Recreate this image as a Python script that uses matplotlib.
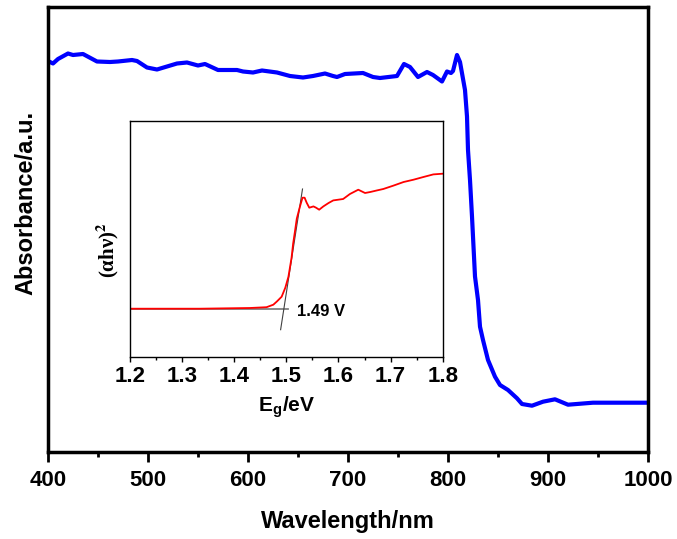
import matplotlib
matplotlib.use("Agg")
import matplotlib.pyplot as plt
from matplotlib.ticker import MultipleLocator

plt.rcParams['font.family'] = ['Liberation Sans', 'DejaVu Sans']
plt.rcParams['font.weight'] = 'bold'
plt.rcParams['mathtext.fontset'] = 'stix'

# main spectrum
wavelength = [400, 405, 410, 420, 425, 435, 449, 462, 470, 484, 489, 499, 509, 519,
              529, 539, 550, 557, 570, 589, 595, 605, 614, 629, 642, 655, 665, 677,
              685, 689, 697, 715, 725, 732, 749, 756, 762, 770, 779, 785, 794, 799,
              803, 805, 809, 812, 817, 819, 820, 822, 824, 827, 830, 832, 835, 840,
              847, 852, 860, 869, 874, 884, 895, 907, 920, 945, 1000]
absorbance = [3.905, 3.88, 3.925, 3.98, 3.965, 3.975, 3.90, 3.895, 3.90, 3.915, 3.905,
              3.84, 3.82, 3.85, 3.88, 3.89, 3.86, 3.875, 3.815, 3.815, 3.80, 3.79, 3.81,
              3.79, 3.755, 3.74, 3.755, 3.78, 3.755, 3.745, 3.775, 3.785, 3.745, 3.735,
              3.755, 3.875, 3.845, 3.745, 3.795, 3.765, 3.70, 3.80, 3.785, 3.805, 3.965,
              3.895, 3.615, 3.35, 3.015, 2.715, 2.35, 1.75, 1.515, 1.248, 1.115, 0.915,
              0.748, 0.665, 0.615, 0.532, 0.475, 0.458, 0.498, 0.522, 0.468, 0.488, 0.488]

# inset: Tauc plot
energy = [1.200, 1.334, 1.430, 1.462, 1.475, 1.482, 1.491, 1.498, 1.504, 1.510, 1.513,
          1.517, 1.520, 1.526, 1.531, 1.535, 1.539, 1.544, 1.552, 1.557, 1.563, 1.571,
          1.581, 1.590, 1.609, 1.622, 1.638, 1.651, 1.661, 1.674, 1.686, 1.705, 1.725,
          1.744, 1.763, 1.782, 1.800]
tauc = [0.48, 0.48, 0.487, 0.495, 0.52, 0.553, 0.60, 0.69, 0.80, 0.99, 1.13, 1.27, 1.38,
        1.50, 1.59, 1.59, 1.54, 1.49, 1.503, 1.49, 1.47, 1.503, 1.537, 1.563, 1.577,
        1.627, 1.67, 1.637, 1.647, 1.663, 1.677, 1.71, 1.747, 1.77, 1.797, 1.823, 1.83]
fit_e = [1.489, 1.531]
fit_y = [0.27, 1.677]
base_e = [1.2, 1.504]
base_y = [0.48, 0.48]
gap_label = '1.49 V'

fig = plt.figure(figsize=(6.77, 5.39), dpi=100)
ax = fig.add_axes([48 / 677, 1 - 451.5 / 539, 600 / 677, 444.2 / 539])
ax.plot(wavelength, absorbance, color='#0000ff', lw=3)
ax.set_xlim(400, 1000)
ax.set_ylim(0, 4.442)
ax.xaxis.set_major_locator(MultipleLocator(100))
ax.xaxis.set_minor_locator(MultipleLocator(50))
ax.set_yticks([])
ax.tick_params(axis='x', which='major', direction='out', length=7, width=2, labelsize=16, pad=6)
ax.tick_params(axis='x', which='minor', direction='out', length=3.5, width=2)
for s in ax.spines.values():
    s.set_linewidth(2.5)
ax.set_xlabel('Wavelength/nm', fontsize=17, fontweight='bold', labelpad=14)
ax.set_ylabel('Absorbance/a.u.', fontsize=17, fontweight='bold')
ax.yaxis.set_label_coords(-0.018, 0.56)

# inset axes
ins = fig.add_axes([130 / 677, 1 - 356.7 / 539, 312.7 / 677, 236.2 / 539])
ins.plot(base_e, base_y, color='#808080', lw=1.3)
ins.plot(fit_e, fit_y, color='#404040', lw=0.8)
ins.plot(energy, tauc, color='#ff0000', lw=1.3)
ins.set_xlim(1.2, 1.8)
ins.set_ylim(0, 2.362)
ins.xaxis.set_major_locator(MultipleLocator(0.1))
ins.xaxis.set_minor_locator(MultipleLocator(0.05))
ins.set_yticks([])
ins.tick_params(axis='x', which='major', direction='out', length=3.6, width=1, labelsize=16, pad=3)
ins.tick_params(axis='x', which='minor', direction='out', length=2, width=1)
for s in ins.spines.values():
    s.set_linewidth(1)
ins.text(1.520, 0.45, gap_label, fontsize=12, fontweight='bold', ha='left', va='center')
ins.set_xlabel(r'E$_\mathregular{g}$/eV', fontsize=15, fontweight='bold', labelpad=6)
ins.set_ylabel(r'(αhν)$^{2}$', fontsize=15, fontweight='bold', family=['Liberation Serif', 'DejaVu Serif'])
ins.yaxis.set_label_coords(-0.03, 0.45)

fig.savefig('out.png', dpi=100)
